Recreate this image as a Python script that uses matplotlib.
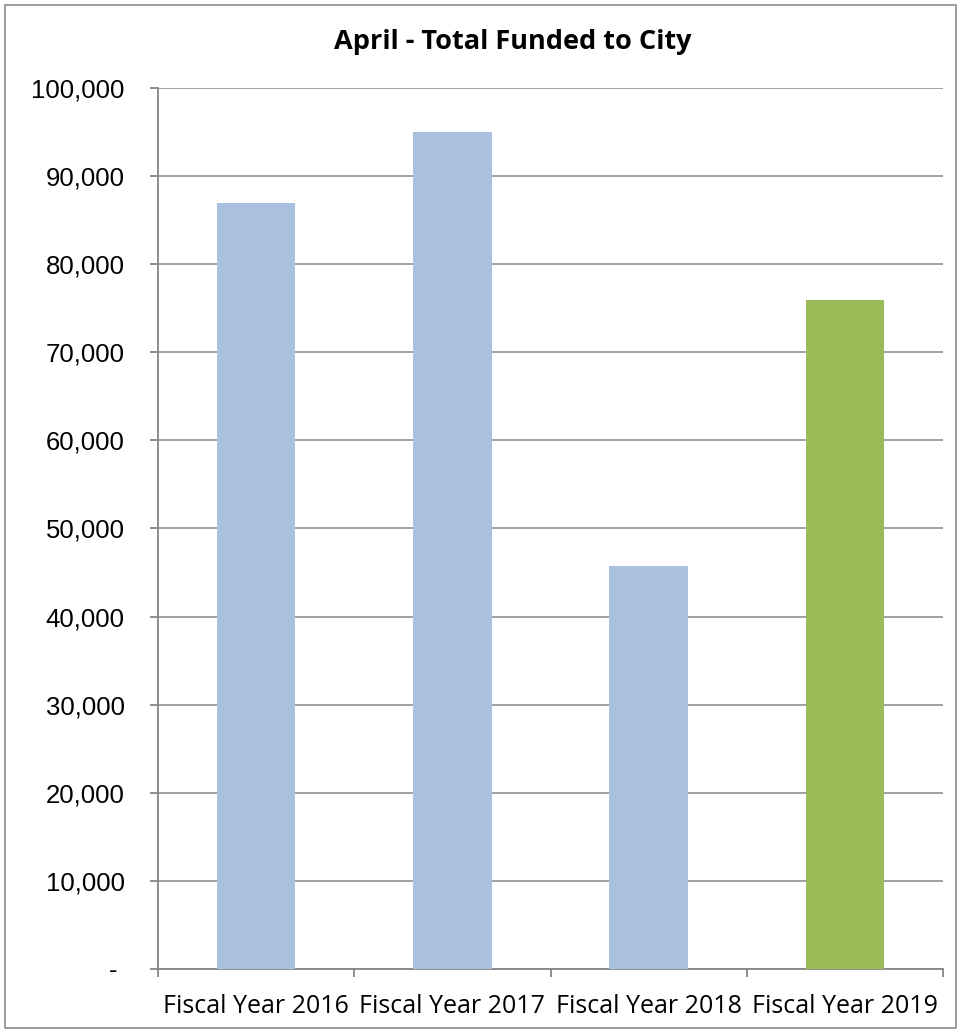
import matplotlib.pyplot as plt
from matplotlib.patches import Rectangle
from matplotlib.ticker import FuncFormatter

years = ['Fiscal Year 2016', 'Fiscal Year 2017', 'Fiscal Year 2018', 'Fiscal Year 2019']
funded = [87000, 95000, 45700, 75900]
colors = ['#a9c1de', '#a9c1de', '#a9c1de', '#9bbb59']

plt.rcParams['font.family'] = ['Open Sans', 'DejaVu Sans']

fig = plt.figure(figsize=(9.61, 10.33), dpi=100)
ax = fig.add_axes([158/961, 1 - 969/1033, (943-158)/961, (969-88)/1033])

x = list(range(len(years)))
ax.bar(x, funded, width=0.4, color=colors, zorder=3)

ax.set_xlim(-0.5, 3.5)
ax.set_ylim(0, 100000)
ax.set_yticks(range(0, 100001, 10000))
ax.yaxis.set_major_formatter(FuncFormatter(lambda v, p: '- ' if v == 0 else f'{int(v):,}'))
ax.grid(axis='y', color='#9a9a9a', linewidth=1.3, zorder=0)

ax.set_xticks(x)
ax.set_xticklabels(years, fontsize=18)
ax.set_xticks([-0.5, 0.5, 1.5, 2.5, 3.5], minor=True)
ax.tick_params(axis='x', which='major', length=0, pad=18)
ax.tick_params(axis='x', which='minor', length=6, color='#868686', width=1.3)
ax.tick_params(axis='y', length=6, color='#868686', width=1.3, pad=18)
for lbl in ax.get_yticklabels():
    lbl.set_fontfamily('Liberation Sans')
    lbl.set_fontsize(18.5)

for s in ['top', 'right']:
    ax.spines[s].set_visible(False)
for s in ['left', 'bottom']:
    ax.spines[s].set_color('#868686')
    ax.spines[s].set_linewidth(1.3)

fig.text(513/961, 1 - 49/1033, 'April - Total Funded to City', ha='center', va='baseline',
         fontsize=19.5, fontweight='bold')

fig.patches.append(Rectangle((5/961, 1 - 1028/1033), 951/961, 1023/1033,
                             transform=fig.transFigure, fill=False,
                             edgecolor='#8c8c8c', linewidth=1.2))

fig.savefig('out.png', dpi=100)
